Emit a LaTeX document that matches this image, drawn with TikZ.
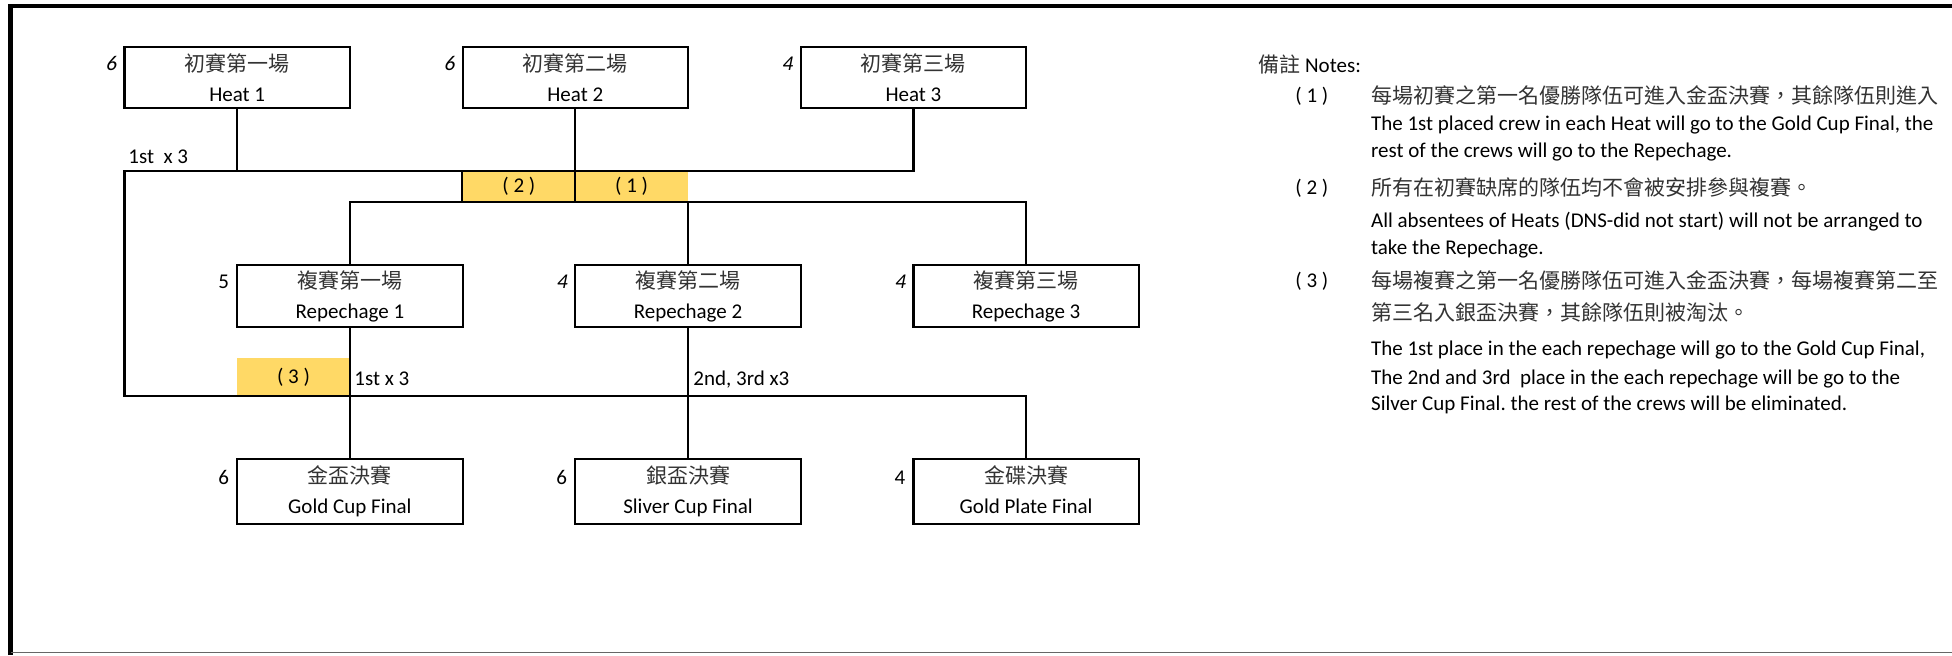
\documentclass[tikz,border=0pt]{standalone}
\usepackage{fontspec}
\setmainfont{Carlito}
\newfontfamily\cjk{Noto Sans CJK TC}
\newfontfamily\slantfont{Carlito}[FakeSlant=0.2]
\usepackage{tikz}
\usetikzlibrary{shapes,arrows,positioning}
\frenchspacing
\definecolor{tagyellow}{HTML}{FFD966}
\tikzstyle{rbox} = [rectangle, draw, line width=1.1pt, minimum width=112.7pt, minimum height=31pt, inner sep=0pt, align=center]
\tikzstyle{tag} = [rectangle, fill=tagyellow, minimum width=56.35pt, minimum height=15.5pt, inner sep=0pt]
\tikzstyle{line} = [draw, line width=1.1pt]
\tikzstyle{txt} = [anchor=base west, inner sep=0pt]
\tikzset{cnt/.style={label={[yshift=7pt]left:#1}}}
\newcommand{\zh}[1]{{\cjk\color{black!80}#1}}
\newcommand{\slnum}[1]{{\slantfont #1}}

\begin{document}
\begin{tikzpicture}[x=0.5pt, y=-0.5pt, font=\fontsize{10.5}{15}\selectfont]
			\useasboundingbox (0,0) rectangle (1952,655);
			\draw [line width=2.3pt] (10.5,655) -- (10.5,6) -- (1952,6);
			\draw [black!60, line width=0.7pt] (10.5,652.5) -- (1952,652.5);

			\node [tag] (tag2) at (518.9,186.5) {( 2 )};
			\node [tag] (tag1) at (631.6,186.5) {( 1 )};
			\node [tag, minimum height=19pt] (tag3) at (293.5,377) {( 3 )};

			\node [rbox, minimum height=30.5pt, cnt=\slnum{6}] (heat1) at (237.2,77.5) {\zh{初賽第一場}\\Heat 1};
			\node [rbox, minimum height=30.5pt, cnt=\slnum{6}] (heat2) at (575.3,77.5) {\zh{初賽第二場}\\Heat 2};
			\node [rbox, minimum height=30.5pt, cnt=\slnum{4}] (heat3) at (913.4,77.5) {\zh{初賽第三場}\\Heat 3};
			\node [rbox, cnt=5] (rep1) at (349.9,296) {\zh{複賽第一場}\\Repechage 1};
			\node [rbox, cnt=\slnum{4}] (rep2) at (688,296) {\zh{複賽第二場}\\Repechage 2};
			\node [rbox, cnt=\slnum{4}] (rep3) at (1026.1,296) {\zh{複賽第三場}\\Repechage 3};
			\node [rbox, minimum height=32.5pt, cnt=6] (final1) at (349.9,491.5) {\zh{金盃決賽}\\Gold Cup Final};
			\node [rbox, minimum height=32.5pt, cnt=6] (final2) at (688,491.5) {\zh{銀盃決賽}\\Sliver Cup Final};
			\node [rbox, minimum height=32.5pt, cnt=4] (final3) at (1026.1,491.5) {\zh{金碟決賽}\\Gold Plate Final\vphantom{p}};

			\coordinate (top) at (124.5,171);
			\coordinate (mid) at (575.3,201.7);
			\coordinate (low) at (124.5,396);

			\path [line] (heat3.south) |- (top) -- (low) -| (final3.north);
			\path [line] (heat1.south) -- (heat1.south |- top);
			\path [line] (heat2.south) -- (mid);
			\path [line] (rep1.north) |- (mid) -| (rep3.north);
			\path [line] (rep2.north) -- (rep2.north |- mid);
			\path [line] (rep1.south) -- (final1.north);
			\path [line] (rep2.south) -- (final2.north);
			\path [line] (tag2.north west) -- (tag2.south west);

			\node [txt] (win1) at (128,163) {1st\ \ x 3};
			\node [txt] (win2) at (354,385) {1st x 3};
			\node [txt] (win3) at (693,385) {2nd, 3rd x3};

			\node [txt] (notes) at (1258,72) {\zh{備註} Notes:};
			\node [txt] (m1) at (1295,102) {( 1 )};
			\node [txt] (m2) at (1295,194) {( 2 )};
			\node [txt] (m3) at (1295,287) {( 3 )};
			\node [txt] (n1a) at (1370.7,103) {\zh{每場初賽之第一名優勝隊伍可進入金盃決賽，其餘隊伍則進入}};
			\node [txt] (n1b) at (1370.7,130) {The 1st placed crew in each Heat will go to the Gold Cup Final, the};
			\node [txt] (n1c) at (1370.7,157) {rest of the crews will go to the Repechage.};
			\node [txt] (n2a) at (1370.7,195) {\zh{所有在初賽缺席的隊伍均不會被安排參與複賽。}};
			\node [txt] (n2b) at (1370.7,227) {All absentees of Heats (DNS-did not start) will not be arranged to};
			\node [txt] (n2c) at (1370.7,254) {take the Repechage.};
			\node [txt] (n3a) at (1370.7,288) {\zh{每場複賽之第一名優勝隊伍可進入金盃決賽，每場複賽第二至}};
			\node [txt] (n3b) at (1370.7,320) {\zh{第三名入銀盃決賽，其餘隊伍則被淘汰。}};
			\node [txt] (n3c) at (1370.7,355) {The 1st place in the each repechage will go to the Gold Cup Final,};
			\node [txt] (n3d) at (1370.7,384) {The 2nd and 3rd\ \ place in the each repechage will be go to the};
			\node [txt] (n3e) at (1370.7,410) {Silver Cup Final. the rest of the crews will be eliminated.};
		\end{tikzpicture}
\end{document}
